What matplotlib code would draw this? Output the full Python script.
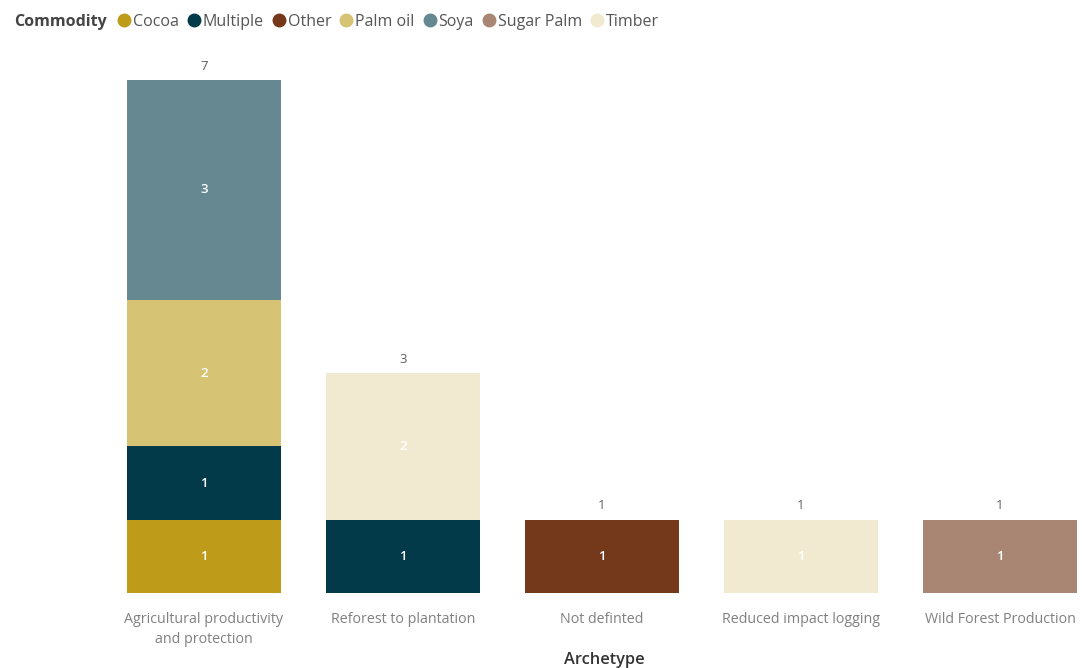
import numpy as np
import matplotlib.pyplot as plt
from matplotlib.lines import Line2D

plt.rcParams['font.family'] = ['Open Sans', 'DejaVu Sans']

archetypes = ['Agricultural productivity\nand protection', 'Reforest to plantation',
              'Not definted', 'Reduced impact logging', 'Wild Forest Production']
commodities = ['Cocoa', 'Multiple', 'Other', 'Palm oil', 'Soya', 'Sugar Palm', 'Timber']
colors = ['#BF9B1A', '#023A4A', '#74381A', '#D6C474', '#668891', '#A98673', '#F1EAD1']

# counts per commodity, one value per archetype
cocoa = [1, 0, 0, 0, 0]
multiple = [1, 1, 0, 0, 0]
other = [0, 0, 1, 0, 0]
palm_oil = [2, 0, 0, 0, 0]
soya = [3, 0, 0, 0, 0]
sugar_palm = [0, 0, 0, 0, 1]
timber = [0, 2, 0, 1, 0]
series = [cocoa, multiple, other, palm_oil, soya, sugar_palm, timber]

fig = plt.figure(figsize=(10.82, 6.68), dpi=100)
ax = fig.add_axes([104.5 / 1082, 75 / 668, (1082 - 104.5) / 1082, 543 / 668])

x = np.arange(len(archetypes))
bottom = np.zeros(len(archetypes))
for name, vals, col in zip(commodities, series, colors):
    vals = np.array(vals, dtype=float)
    ax.bar(x, vals, bottom=bottom, width=0.775, color=col, label=name)
    for xi, v, b in zip(x, vals, bottom):
        if v > 0:
            ax.text(xi, b + v / 2, f'{int(v)}', ha='center', va='center',
                    color='white', fontsize=9.5, fontweight='semibold')
    bottom += vals

for xi, tot in zip(x, bottom):
    ax.text(xi, tot + 0.1, f'{int(tot)}', ha='center', va='bottom',
            color='#605E5C', fontsize=9.5)

ax.set_xlim(-0.5, (1082 - 204) / 199)
ax.set_ylim(0, 7.41)
ax.set_xticks(x)
ax.set_xticklabels(archetypes, color='#808080', fontsize=10.3, linespacing=1.45)
ax.tick_params(axis='x', length=0, pad=14)
ax.set_yticks([])
for s in ax.spines.values():
    s.set_visible(False)

fig.text(604 / 1082, 8 / 668, 'Archetype', ha='center', va='center',
         fontsize=11.8, color='#333333', fontweight='semibold')

# legend strip across the top
fig.text(14 / 1082, 1 - 22 / 668, 'Commodity', ha='left', va='center',
         fontsize=11.5, color='#444444', fontweight='bold')
handles = [Line2D([], [], marker='o', linestyle='', markersize=9,
                  markerfacecolor=c, markeredgecolor=c) for c in colors]
fig.legend(handles, commodities, loc='center left',
           bbox_to_anchor=(116 / 1082, 1 - 22 / 668), ncol=7, frameon=False,
           handletextpad=0.05, columnspacing=0.45, handlelength=1.0,
           fontsize=11.5, labelcolor='#555555', borderaxespad=0, borderpad=0)

fig.savefig('out.png', dpi=100)
